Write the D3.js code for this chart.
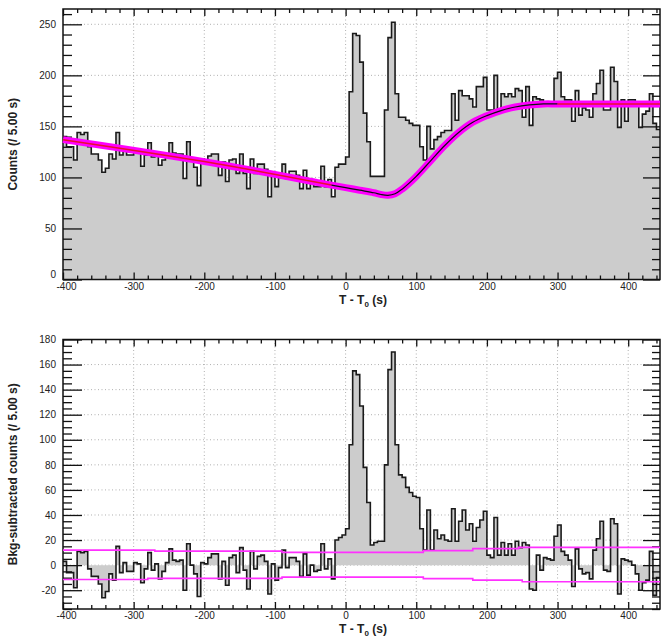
<!DOCTYPE html>
<html>
<head>
<meta charset="utf-8">
<script src="https://cdn.jsdelivr.net/npm/d3@7"></script>
<style>
body { margin: 0; background: #fff; }
text { font-family: "Liberation Sans", Arial, sans-serif; fill: #222; }
</style>
</head>
<body>
<svg id="chart" width="663" height="637"></svg>
<script>
// 5 s bins from -400 s to 445 s
var binStart = d3.range(-400, 445, 5);
var tEnd = 445;

// raw light curve (counts per 5 s bin)
var counts = [
	140,130,130,117,144,142,144,130,123,123,
	117,105,109,123,118,144,122,130,122,122,
	128,127,111,122,134,120,124,112,117,123,
	134,124,123,123,99,135,118,110,92,118,
	117,121,123,123,102,115,96,117,118,104,
	123,104,89,118,104,113,113,108,81,104,
	91,100,113,99,106,106,102,89,107,89,
	96,91,91,111,91,98,81,110,113,113,
	120,184,241,239,213,163,135,101,101,101,
	101,166,237,252,182,159,159,156,153,151,
	151,130,117,150,128,137,140,144,146,146,
	182,156,185,180,180,177,169,189,189,198,
	166,166,200,166,182,179,182,179,187,185,
	159,189,151,179,177,176,172,172,173,197,
	203,179,176,176,155,185,161,168,166,159,
	182,192,205,166,166,208,194,149,176,155,
	176,176,170,149,162,165,182,153,147
];

// background-subtracted counts
var netCounts = [
	3,-6,-6,-18,11,10,11,-3,-9,-9,
	-15,-26,-21,-7,-12,15,-6,2,-5,-5,
	2,1,-14,-3,10,-4,1,-11,-5,2,
	13,4,3,4,-20,17,0,-7,-25,2,
	1,6,9,9,-11,3,-16,6,8,-6,
	14,-4,-19,11,-3,7,8,3,-23,1,
	-12,-2,12,-2,6,6,3,-9,9,-8,
	0,-5,-4,17,-3,5,-11,20,22,24,
	29,96,155,152,127,78,50,16,18,19,
	19,80,156,170,96,72,70,62,58,55,
	54,29,12,44,12,28,21,24,20,19,
	45,19,35,44,28,33,19,30,36,43,
	8,6,38,8,18,8,17,8,19,14,
	18,16,-19,-20,8,-4,6,5,4,23,
	32,11,8,4,-17,13,-3,-7,-6,-11,
	12,21,35,-4,-5,37,33,-23,5,4,
	3,0,-7,-20,-14,-12,11,-24,-10
];

// background model
var bkgTime  = [-400,-200,-20,0,20,40,50,60,70,80,100,120,140,160,180,200,220,240,260,280,300,445];
var bkgLevel = [137,115.5,92.5,90,87.5,85,83.3,82.5,84,88.5,101,116,131,144,154,160.5,165.5,169,171,172,172,172];

// +/- threshold steps in the lower panel
var upperTime  = [-400,-270,-90,110,180,245,445];
var upperLevel = [12,11.2,10.2,11.6,13.2,14.2,14.2];
var lowerTime  = [-400,-280,-90,110,180,250,445];
var lowerLevel = [-11.5,-10.6,-9.6,-10.8,-12,-13.3,-13.3];

// ticks
var xMajor = [-400,-300,-200,-100,0,100,200,300,400];
var xMinor = d3.range(-400, 446, 20).filter(function(d){ return d % 100 !== 0; });
var topYMajor = [0,50,100,150,200,250];
var topYMinor = d3.range(0, 265, 10).filter(function(d){ return d % 50 !== 0; });
var botYMajor = [-20,0,20,40,60,80,100,120,140,160,180];
var botYMinor = d3.range(-35, 181, 5).filter(function(d){ return d % 20 !== 0; });

var svg = d3.select("#chart");
var left = 63, right = 660;

var x = d3.scaleLinear().domain([-400, tEnd]).range([left, right]);
var yTop = d3.scaleLinear().domain([0, 265]).range([279.5, 9]);
var yBot = d3.scaleLinear().domain([-35, 180]).range([609, 339.5]);

var plain = function(d){ return String(d); };

function histPoints(vals) {
	var pts = binStart.map(function(t, i){ return [t, vals[i]]; });
	pts.push([tEnd, vals[vals.length - 1]]);
	return pts;
}

function drawPanel(y, yMajor, yMinor, vals, yTitle) {
	var g = svg.append("g");
	var top = y.range()[1], bottom = y.range()[0];

	// dotted grid
	g.selectAll(".gx").data(xMajor.slice(1)).enter().append("line")
		.attr("x1", function(d){ return x(d); }).attr("x2", function(d){ return x(d); })
		.attr("y1", top).attr("y2", bottom)
		.attr("stroke", "#b0b0b0").attr("stroke-dasharray", "1,2.5");
	g.selectAll(".gy").data(yMajor.filter(function(d){ return y(d) > top + 1 && y(d) < bottom - 1; })).enter().append("line")
		.attr("x1", left).attr("x2", right)
		.attr("y1", function(d){ return y(d); }).attr("y2", function(d){ return y(d); })
		.attr("stroke", "#b0b0b0").attr("stroke-dasharray", "1,2.5");

	var pts = histPoints(vals);
	var area = d3.area().curve(d3.curveStepAfter)
		.x(function(d){ return x(d[0]); })
		.y0(y(0)).y1(function(d){ return y(d[1]); });
	var line = d3.line().curve(d3.curveStepAfter)
		.x(function(d){ return x(d[0]); })
		.y(function(d){ return y(d[1]); });

	g.append("path").attr("d", area(pts)).attr("fill", "#cccccc");
	g.append("path").attr("d", line(pts)).attr("fill", "none")
		.attr("stroke", "#1a1a1a").attr("stroke-width", 1.6);

	// axes with inward ticks
	function addAxis(axis, tr) {
		var a = g.append("g").attr("transform", tr).call(axis);
		a.select(".domain").remove();
		a.selectAll(".tick line").attr("stroke", "#111").attr("stroke-width", 1.3);
		a.selectAll("text").style("font-size", "10px").attr("fill", "#222");
		return a;
	}
	var xb = addAxis(d3.axisBottom(x).tickValues(xMajor).tickSize(-7).tickPadding(3)
		.tickFormat(plain), "translate(0," + bottom + ")");
	// first label sits a bit right of the corner, like the original
	xb.selectAll(".tick text").filter(function(d){ return d === -400; }).attr("dx", 3);
	addAxis(d3.axisBottom(x).tickValues(xMinor).tickSize(-4).tickFormat(""), "translate(0," + bottom + ")");
	addAxis(d3.axisTop(x).tickValues(xMajor).tickSize(-7).tickFormat(""), "translate(0," + top + ")");
	addAxis(d3.axisTop(x).tickValues(xMinor).tickSize(-4).tickFormat(""), "translate(0," + top + ")");
	var yl = addAxis(d3.axisLeft(y).tickValues(yMajor).tickSize(-19).tickPadding(7)
		.tickFormat(plain), "translate(" + left + ",0)");
	// lowest label is lifted off the corner
	yl.selectAll(".tick text").filter(function(d){ return y(d) > bottom - 2; }).attr("dy", "-0.2em");
	addAxis(d3.axisLeft(y).tickValues(yMinor).tickSize(-9).tickFormat(""), "translate(" + left + ",0)");
	addAxis(d3.axisRight(y).tickValues(yMajor).tickSize(-17).tickFormat(""), "translate(" + right + ",0)");
	addAxis(d3.axisRight(y).tickValues(yMinor).tickSize(-8).tickFormat(""), "translate(" + right + ",0)");

	// frame
	g.append("rect").attr("x", left).attr("y", top)
		.attr("width", right - left).attr("height", bottom - top)
		.attr("fill", "none").attr("stroke", "#111").attr("stroke-width", 1.5);

	// titles
	var xt = g.append("text").attr("x", 363).attr("y", bottom + 24)
		.attr("text-anchor", "middle").style("font-size", "12px").style("font-weight", "bold");
	xt.append("tspan").text("T - T");
	xt.append("tspan").attr("dy", 3).style("font-size", "8px").text("0");
	xt.append("tspan").attr("dy", -3).text(" (s)");

	g.append("text")
		.attr("transform", "translate(17," + ((top + bottom) / 2) + ") rotate(-90)")
		.attr("text-anchor", "middle").style("font-size", "12px").style("font-weight", "bold")
		.text(yTitle);
	return g;
}

var gTop = drawPanel(yTop, topYMajor, topYMinor, counts, "Counts (/ 5.00 s)");
var gBot = drawPanel(yBot, botYMajor, botYMinor, netCounts, "Bkg-subtracted counts (/ 5.00 s)");

// background model on the upper panel
var bkgPts = bkgTime.map(function(t, i){ return [t, bkgLevel[i]]; });
var bkgLine = d3.line().curve(d3.curveCatmullRom.alpha(0.5))
	.x(function(d){ return x(d[0]); })
	.y(function(d){ return yTop(d[1]); });
gTop.append("path").attr("d", bkgLine(bkgPts)).attr("fill", "none")
	.attr("stroke", "#ff00ff").attr("stroke-width", 7);
gTop.append("path").attr("d", bkgLine(bkgPts.filter(function(d){ return d[0] <= -20; })))
	.attr("fill", "none").attr("stroke", "#e8102e").attr("stroke-width", 1.5);
gTop.append("path").attr("d", bkgLine(bkgPts.filter(function(d){ return d[0] >= -20 && d[0] <= 300; })))
	.attr("fill", "none").attr("stroke", "#111").attr("stroke-width", 1.2);
gTop.append("path").attr("d", bkgLine(bkgPts.filter(function(d){ return d[0] >= 300; })))
	.attr("fill", "none").attr("stroke", "#e8102e").attr("stroke-width", 1.5);

// thresholds on the lower panel
var stepLine = d3.line().curve(d3.curveStepAfter)
	.x(function(d){ return x(d[0]); })
	.y(function(d){ return yBot(d[1]); });
gBot.append("path").attr("d", stepLine(upperTime.map(function(t, i){ return [t, upperLevel[i]]; })))
	.attr("fill", "none").attr("stroke", "#ff30ff").attr("stroke-width", 1.6);
gBot.append("path").attr("d", stepLine(lowerTime.map(function(t, i){ return [t, lowerLevel[i]]; })))
	.attr("fill", "none").attr("stroke", "#ff30ff").attr("stroke-width", 1.6);
</script>
</body>
</html>
